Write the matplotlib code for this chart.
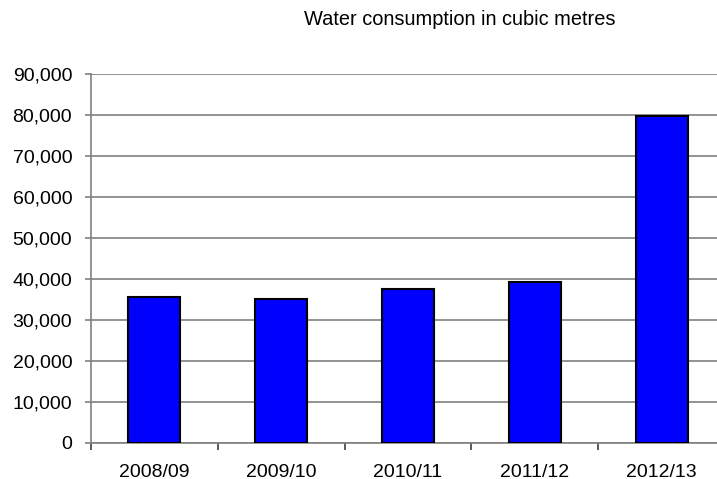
import matplotlib.pyplot as plt
from matplotlib.ticker import FuncFormatter, MultipleLocator

plt.rcParams['font.family'] = ['Liberation Sans', 'DejaVu Sans']

# yearly water use (cubic metres)
years = ["2008/09", "2009/10", "2010/11", "2011/12", "2012/13"]
consumption = [35600, 35000, 37500, 39300, 79700]

fig = plt.figure(figsize=(7.17, 4.79), dpi=100)
ax = fig.add_axes([0.1269, 0.0758, 0.8842, 0.7697])

x = range(len(years))
ax.bar(x, consumption, width=0.41, color="#0000FF", edgecolor="black",
       linewidth=1.5, zorder=3)

ax.set_xlim(-0.5, len(years) - 0.5)
ax.set_ylim(0, 90000)
ax.yaxis.set_major_locator(MultipleLocator(10000))
ax.yaxis.set_major_formatter(FuncFormatter(lambda v, p: f"{int(v):,}"))
ax.grid(axis="y", color="#808080", linewidth=1.2, zorder=0)

# category labels centred, tick marks on the boundaries
ax.set_xticks(list(x))
ax.set_xticklabels(years)
ax.set_xticks([i - 0.5 for i in range(len(years) + 1)], minor=True)
ax.tick_params(axis="x", which="major", length=0, pad=15, labelsize=14)
ax.tick_params(axis="x", which="minor", length=5, width=1.2, color="#404040")
ax.tick_params(axis="y", length=4.5, width=1.2, color="#808080", pad=9,
               labelsize=14)

for side in ("top", "right"):
    ax.spines[side].set_visible(False)
for side in ("left", "bottom"):
    ax.spines[side].set_color("#808080")
    ax.spines[side].set_linewidth(1.2)

fig.text(0.641, 0.96, "Water consumption in cubic metres", ha="center",
         va="center", fontsize=14.4)

fig.savefig("out.png", dpi=100)
